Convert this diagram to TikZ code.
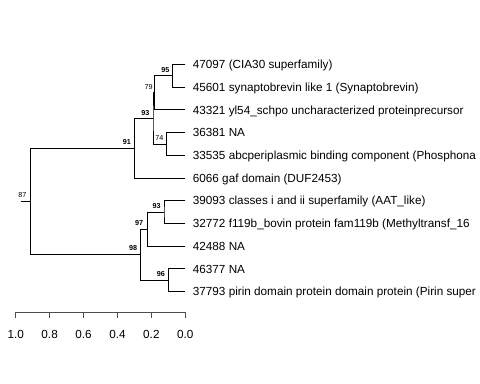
\documentclass[tikz,border=0pt]{standalone}
\usepackage{fontspec}
\setmainfont{Liberation Sans}
\usetikzlibrary{positioning}

\begin{document}
\begin{tikzpicture}[
  x=0.75pt, y=-0.75pt,
  branch/.style={draw=black, line width=0.6pt},
  leaf/.style={anchor=base west, inner sep=0pt, xshift=5.5pt, yshift=-3.2pt,
               font=\fontsize{8.8}{10}\selectfont},
  boot/.style={inner sep=0pt, font=\fontsize{5.4}{6}\selectfont\bfseries},
  bootthin/.style={inner sep=0pt, font=\fontsize{5.4}{6}\selectfont},
  scaleax/.style={draw=black!70, line width=0.6pt},
  ticklab/.style={inner sep=0pt, font=\fontsize{8.8}{10}\selectfont},
]
\useasboundingbox (0,0) rectangle (480,384);
\clip (0,0) rectangle (480,384);

% Leaf tips and their labels (one row every 22.7px)
\foreach \i/\id/\txt in {
  0/a/47097 (CIA30 superfamily),
  1/b/45601 synaptobrevin like 1 (Synaptobrevin),
  2/c/43321 yl54\_schpo uncharacterized proteinprecursor,
  3/d/36381 NA,
  4/e/33535 abcperiplasmic binding component (Phosphona,
  5/f/6066 gaf domain (DUF2453),
  6/g/39093 classes i and ii superfamily (AAT\_like),
  7/h/32772 f119b\_bovin protein fam119b (Methyltransf\_16,
  8/i/42488 NA,
  9/j/46377 NA,
  10/k/37793 pirin domain protein domain protein (Pirin super} {
  \coordinate (t\id) at (185.3,{64.5+22.7*\i});
  \node[leaf] (lab\id) at (t\id) {\txt};
}

% Internal nodes
\coordinate (n95)  at (172.7,75.85);
\coordinate (n79)  at (154.3,92.9);
\coordinate (n74)  at (166.3,143.95);
\coordinate (n93a) at (153.0,118.4);
\coordinate (n91)  at (134.7,148.2);
\coordinate (n93b) at (164.0,212.05);
\coordinate (n97)  at (147.7,229.1);
\coordinate (n96)  at (168.7,280.15);
\coordinate (n98)  at (140.3,254.6);
\coordinate (root) at (30.7,201.4);
\coordinate (stub) at (20.7,201.4);

% Branches
\draw[branch] (ta) -| (n95) |- (tb);
\draw[branch] (n95) -| (n79) |- (tc);
\draw[branch] (td) -| (n74) |- (te);
\draw[branch] (n79) -| (n93a) |- (n74);
\draw[branch] (n93a) -| (n91) |- (tf);
\draw[branch] (tg) -| (n93b) |- (th);
\draw[branch] (n93b) -| (n97) |- (ti);
\draw[branch] (tj) -| (n96) |- (tk);
\draw[branch] (n97) -| (n98) |- (n96);
\draw[branch] (n91) -| (root) |- (n98);
\draw[branch] (stub) -- (root);

% Bootstrap support
\node[boot]     (b95)  at (165.5,70)   {95};
\node[bootthin] (b79)  at (148.7,87.3) {79};
\node[boot]     (b93a) at (145.5,112.7){93};
\node[bootthin] (b74)  at (159.3,138.3){74};
\node[boot]     (b91)  at (127,142)    {91};
\node[bootthin] (b87)  at (22.5,195)   {87};
\node[boot]     (b93b) at (156.7,206)  {93};
\node[boot]     (b97)  at (139.2,223)  {97};
\node[boot]     (b98)  at (133.2,248.3){98};
\node[boot]     (b96)  at (160.8,274)  {96};

% Distance scale
\coordinate (ax0) at (185.3,312.5);
\coordinate (ax1) at (15.7,312.5);
\draw[scaleax] (ax0) -- (ax1);
\foreach \k/\lab in {0/0.0,1/0.2,2/0.4,3/0.6,4/0.8,5/1.0} {
  \coordinate (tk\k) at ({185.3-33.92*\k},312.5);
  \coordinate (tkb\k) at ({185.3-33.92*\k},318.5);
  \draw[scaleax] (tk\k) -- (tkb\k);
  \node[ticklab] (tl\k) at ({185.3-33.92*\k},334) {\lab};
}

\end{tikzpicture}
\end{document}
